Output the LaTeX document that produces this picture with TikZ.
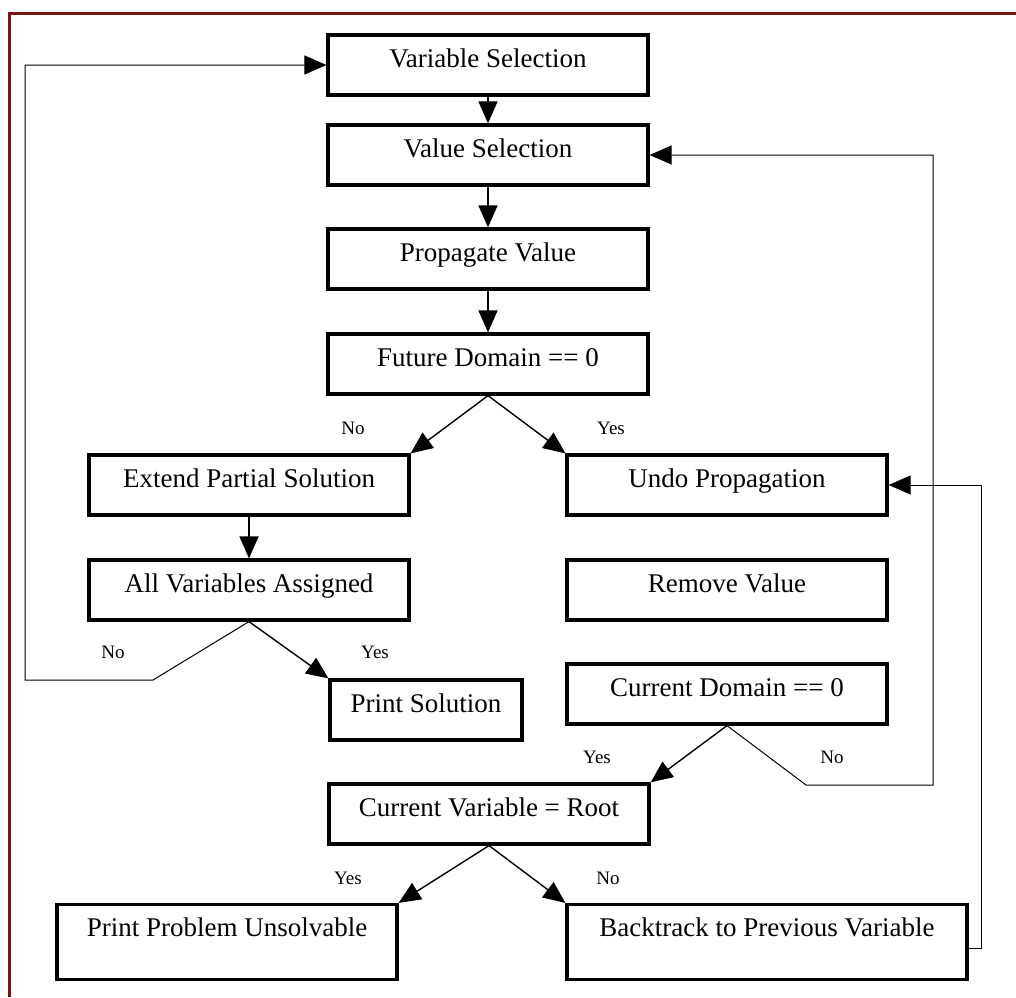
\documentclass[tikz,border=0pt]{standalone}
\usepackage{fontspec}
\setmainfont{Liberation Serif}
\usetikzlibrary{arrows.meta}
\definecolor{framered}{RGB}{122,20,20}

\begin{document}
\begin{tikzpicture}[x=0.5pt, y=-0.5pt, >={Triangle[length=11pt,width=9.5pt]},
    procbox/.style={draw, line width=1.6pt, minimum width=160pt, inner ysep=0pt,
        text height=16pt, text depth=14pt, font=\fontsize{13.5}{15}\selectfont},
    tallbox/.style={procbox, text depth=21.5pt},
    flow/.style={->, line width=0.7pt},
    loopback/.style={->, line width=0.5pt},
    answer/.style={font=\fontsize{9.5}{11}\selectfont}]

    \useasboundingbox (0,0) rectangle (1016,997);

    % Frame
    \draw[framered, line width=1.5pt] (9,997) |- (1016,13);

    % Steps
    \node[procbox] (varsel) at (488,65) {Variable Selection};
    \node[procbox] (valsel) at (488,155) {Value Selection};
    \node[procbox] (propval) at (488,259) {Propagate Value};
    \node[procbox] (futdom) at (488,364) {Future Domain == 0};
    \node[procbox] (extend) at (249,485) {Extend Partial Solution};
    \node[procbox] (allvar) at (249,590) {All Variables Assigned};
    \node[procbox] (undo) at (727,485) {Undo Propagation};
    \node[procbox] (remove) at (727,590) {Remove Value};
    \node[procbox] (curdom) at (727,694) {Current Domain == 0};
    \node[procbox, minimum width=96pt] (printsol) at (426,710) {Print Solution};
    \node[procbox] (curvar) at (489,814) {Current Variable = Root};
    \node[tallbox, minimum width=170pt] (unsolv) at (227,942) {Print Problem Unsolvable};
    \node[tallbox, minimum width=200pt] (backtrk) at (767,942) {Backtrack to Previous Variable};

    % Forward arrows
    \draw[flow] (varsel) -- (valsel);
    \draw[flow] (valsel) -- (propval);
    \draw[flow] (propval) -- (futdom);
    \draw[flow] (futdom.south) -- (extend.north east);
    \draw[flow] (futdom.south) -- (undo.north west);
    \draw[flow] (extend) -- (allvar);
    \draw[flow] (allvar.south) -- (printsol.north west);
    \draw[flow] (curdom.south) -- (curvar.north east);
    \draw[flow] (curvar.south) -- (unsolv.north east);
    \draw[flow] (curvar.south) -- (backtrk.north west);

    % Loops back
    \coordinate (allno) at (153,680);
    \coordinate (leftrail) at (25,680);
    \draw[loopback] (allvar.south) -- (allno) -- (leftrail) |- (varsel.west);

    \coordinate (domno) at (806,785);
    \coordinate (rightrail) at (933,785);
    \draw[loopback] (curdom.south) -- (domno) -- (rightrail) |- (valsel.east);

    \coordinate (backout) at (981,948);
    \draw[loopback] ([yshift=-3pt]backtrk.east) -- (backout) |- (undo.east);

    % Answers
    \node[answer] (futnolbl) at (353,428) {No};
    \node[answer] (futyeslbl) at (611,428) {Yes};
    \node[answer] (allnolbl) at (113,652) {No};
    \node[answer] (allyeslbl) at (375,652) {Yes};
    \node[answer] (domyeslbl) at (597,757) {Yes};
    \node[answer] (domnolbl) at (832,757) {No};
    \node[answer] (varyeslbl) at (348,878) {Yes};
    \node[answer] (varnolbl) at (608,878) {No};

\end{tikzpicture}
\end{document}
